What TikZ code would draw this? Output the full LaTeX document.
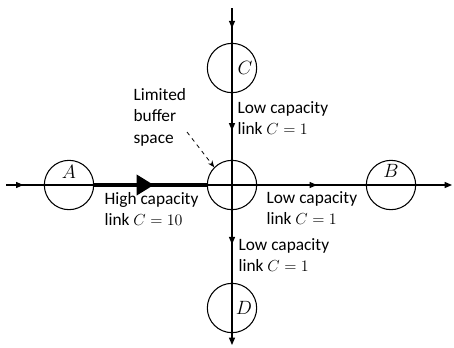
\documentclass[tikz,border=0pt]{standalone}
\usepackage{fontspec}
\setsansfont{Carlito}
\usetikzlibrary{arrows.meta, positioning, calc, decorations.markings}

\begin{document}
\begin{tikzpicture}[x=0.75pt, y=-0.75pt, line width=0.9pt,
  >={Triangle[length=5.5pt, width=4.5pt]},
  nd/.style={draw, circle, line width=0.8pt, minimum size=37pt, inner sep=0pt},
  tag/.style={font=\fontsize{15}{15}\selectfont},
  txt/.style={font=\sffamily\fontsize{13}{16}\selectfont, align=left, anchor=north west, inner sep=0pt},
  flow/.style={postaction={decorate}, decoration={markings, mark=at position #1 with {\arrow{>}}}}]
  \useasboundingbox (0,0) rectangle (454,347);
  % nodes
  \node[nd] (hub) at (232,185) {};
  \node[nd] (A) at (69,185) {};
  \node[nd] (B) at (391,185) {};
  \node[nd] (C) at (232,68) {};
  \node[nd] (D) at (232,308) {};
  \coordinate (w) at (6,185);
  \coordinate (e) at (452,185);
  \coordinate (n) at (232,8);
  \coordinate (s) at (232,345);
  \node[tag] at ($(A)+(0,-13)$) {$A$};
  \node[tag] at ($(B)+(0,-14)$) {$B$};
  \node[tag] at ($(C)+(13,0)$) {$C$};
  \node[tag] at ($(D)+(12,0)$) {$D$};
  % links
  \draw[->] (w) -- (e);
  \draw[->] (n) -- (s);
  \draw[flow=0.46] (w) -- (A);
  \draw[flow=0.55] (hub) -- (B);
  \draw[flow=0.58] (n) -- (C);
  \draw[flow=0.56] (C) -- (hub);
  \draw[flow=0.47] (hub) -- (D);
  \draw[line width=3pt, postaction={decorate}, decoration={markings,
    mark=at position 0.53 with {\arrow{Triangle[length=13pt, width=15pt]}}}] (A) -- (hub);
  % labels
  \node[txt] (note) at (133,88) {Limited\\buffer\\space};
  \coordinate (ptr) at (187,132);
  \draw[->, dashed, line width=0.6pt, >={Stealth[length=5pt, width=4pt]}] (ptr) -- (hub.135);
  \node[txt] (lc) at (237,101) {Low capacity\\link $C=1$};
  \node[txt] (lh) at (104,192) {High capacity\\link $C=10$};
  \node[txt] (lb) at (266,191) {Low capacity\\link $C=1$};
  \node[txt] (ld) at (238,238) {Low capacity\\link $C=1$};
\end{tikzpicture}
\end{document}
